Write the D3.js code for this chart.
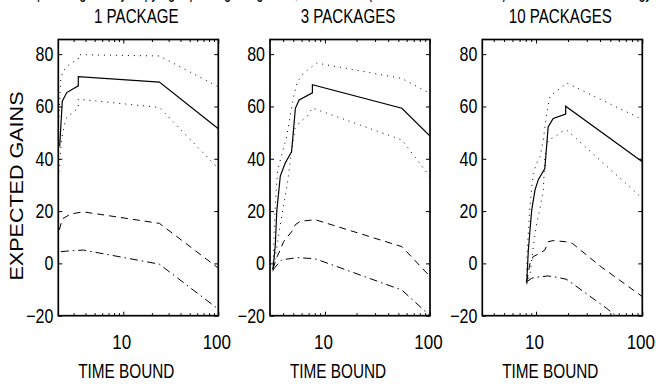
<!DOCTYPE html>
<html>
<head>
<meta charset="utf-8">
<script src="https://cdn.jsdelivr.net/npm/d3@7"></script>
<style>
  body { margin: 0; background: #fff; }
  svg { display: block; }
  text { font-family: "Liberation Sans", Arial, sans-serif; fill: #000; }
</style>
</head>
<body>
<div id="chart"></div>
<script>
const titles = ["1 PACKAGE", "3 PACKAGES", "10 PACKAGES"];
const yTicks = [-20, 0, 20, 40, 60, 80];
const xTicks = [10, 100];
const xMin = [2.07, 3.0, 3.12];

// 1 package
const p1MeanT = [2.14, 2.28, 2.54, 3.36, 3.36, 24, 100];
const p1Mean = [44.7, 62, 65.3, 67.9, 71.4, 69.3, 51.5];
const p1UpperT = [2.1, 2.15, 2.2, 2.34, 2.54, 2.79, 3.2, 3.36, 3.36, 24, 100];
const p1Upper = [56, 64, 70.7, 73.6, 75.2, 76.5, 77.5, 78, 79.8, 79.3, 67.5];
const p1LowerT = [2.1, 2.24, 2.34, 2.49, 2.87, 3.36, 3.36, 24, 100];
const p1Lower = [35, 47.2, 51, 55.4, 57.3, 59.6, 62.8, 59.6, 36.3];
const p1DashT = [2.12, 2.28, 2.8, 3.8, 24, 100];
const p1Dash = [12.8, 17, 18.9, 19.7, 15.3, -1.8];
const p1DashDotT = [2.2, 2.8, 3.8, 24, 100];
const p1DashDot = [4.5, 4.8, 5.1, -0.3, -17.5];

// 3 packages
const p2MeanT = [3.2, 3.37, 3.48, 3.76, 4.19, 4.81, 5.04, 5.23, 5.68, 7.6, 7.6, 54, 100];
const p2Mean = [-2.5, 7, 20, 33.4, 38.4, 42.7, 51.7, 59.3, 62.5, 65.2, 68.3, 59.3, 48.7];
const p2UpperT = [3.2, 3.3, 3.42, 3.55, 3.87, 4.32, 4.65, 5.04, 5.45, 6.22, 7.13, 8.33, 54, 100];
const p2Upper = [-2, 14, 27, 35.7, 41.4, 48.4, 56, 63.7, 69.4, 72.6, 74.5, 76.6, 70.7, 65];
const p2LowerT = [3.2, 3.48, 3.76, 4.05, 4.37, 4.75, 5.0, 5.19, 5.8, 6.8, 7.6, 54, 100];
const p2Lower = [-3, 5.9, 14.8, 22.4, 30, 40.8, 47.2, 51.6, 54.1, 56.3, 59.4, 47.2, 33.1];
const p2DashT = [3.2, 3.5, 3.76, 4.05, 4.86, 5.23, 5.84, 8.1, 54, 100];
const p2Dash = [-2, 2.5, 5.2, 8.4, 12.3, 14.8, 16.1, 16.7, 6.4, -5];
const p2DashDotT = [3.2, 3.5, 3.9, 5.5, 7.2, 8.3, 54, 100];
const p2DashDot = [-2.5, -0.6, 1.4, 2.2, 1.9, 1.6, -10.2, -20];

// 10 packages
const p3MeanT = [8.17, 8.46, 9.1, 9.77, 10.5, 12.1, 13.0, 14.5, 19, 19, 100];
const p3Mean = [-7.6, 5, 20.4, 28, 32, 36.3, 52.2, 55.4, 57.1, 60.1, 38.9];
const p3UpperT = [8.1, 8.3, 8.7, 9.1, 9.42, 10.1, 10.9, 11.7, 12.6, 13.5, 15.1, 17.4, 19.4, 100];
const p3Upper = [-7, 6, 20, 29, 34.4, 38.2, 40.8, 47.2, 57.4, 63.7, 65.6, 67.3, 69, 55];
const p3LowerT = [8.2, 8.8, 9.4, 10.1, 10.9, 11.7, 12.1, 13.0, 15.1, 17.4, 19.4, 100];
const p3Lower = [-8, -4, 6, 15, 21, 28, 40.8, 47.2, 48.4, 50.3, 51, 24.9];
const p3DashT = [8.17, 8.77, 9.4, 11, 12.1, 13.0, 14.5, 18.9, 21.9, 40, 100];
const p3Dash = [-7, 0, 2.6, 4, 5.1, 8.3, 8.7, 8.3, 7.7, -1, -12.7];
const p3DashDotT = [8.17, 9.1, 10.1, 13.0, 15.6, 19.4, 46.2, 100];
const p3DashDot = [-7, -5.7, -5.3, -4.8, -5.3, -6.1, -17.2, -28];

const panels = [
  [[p1MeanT, p1Mean, "mean"], [p1UpperT, p1Upper, "dot"], [p1LowerT, p1Lower, "dot"], [p1DashT, p1Dash, "dash"], [p1DashDotT, p1DashDot, "dashdot"]],
  [[p2MeanT, p2Mean, "mean"], [p2UpperT, p2Upper, "dot"], [p2LowerT, p2Lower, "dot"], [p2DashT, p2Dash, "dash"], [p2DashDotT, p2DashDot, "dashdot"]],
  [[p3MeanT, p3Mean, "mean"], [p3UpperT, p3Upper, "dot"], [p3LowerT, p3Lower, "dot"], [p3DashT, p3Dash, "dash"], [p3DashDotT, p3DashDot, "dashdot"]]
];

const width = 656, height = 386;
const plotTop = 39.5, plotBottom = 315.7, plotW = 160;
const lefts = [58.3, 270, 482.3];

const styles = {
  mean: { w: 1.2, dash: null },
  dot: { w: 1, dash: "1,5" },
  dash: { w: 1, dash: "7,5" },
  dashdot: { w: 1, dash: "8,4,1.5,4" }
};

// squeeze text horizontally so it matches the condensed helvetica look
function squeeze(sel, k) {
  sel.each(function () {
    const len = this.getComputedTextLength();
    d3.select(this).attr("textLength", len * k).attr("lengthAdjust", "spacingAndGlyphs");
  });
}

const svg = d3.select("#chart").append("svg")
  .attr("width", width)
  .attr("height", height);

// cut-off caption line from the page above, only its descenders show
svg.append("text")
  .attr("x", 2).attr("y", -2)
  .style("font-size", "20px")
  .attr("textLength", 650)
  .attr("lengthAdjust", "spacingAndGlyphs")
  .text("the expected gains by copying a package of games, with dotted (one standard deviation) bounds for each strategy");

const y = d3.scaleLinear().domain([-20, 85.6]).range([plotBottom, plotTop]);

panels.forEach((series, i) => {
  const x = d3.scaleLog().domain([xMin[i], 100]).range([0, plotW]);
  const g = svg.append("g").attr("transform", `translate(${lefts[i]},0)`);

  g.append("clipPath").attr("id", "clip" + i)
    .append("rect").attr("x", 0).attr("y", plotTop).attr("width", plotW).attr("height", plotBottom - plotTop);

  const line = d3.line()
    .x(d => x(d[0]))
    .y(d => y(d[1]));

  const lines = g.append("g").attr("clip-path", `url(#clip${i})`);
  series.forEach(s => {
    const pts = s[0].map((t, j) => [t, s[1][j]]);
    const st = styles[s[2]];
    lines.append("path")
      .datum(pts)
      .attr("fill", "none")
      .attr("stroke", "#000")
      .attr("stroke-width", st.w)
      .attr("stroke-dasharray", st.dash)
      .attr("d", line);
  });

  const minor = x.ticks().filter(t => !xTicks.includes(t));

  // left / right y ticks
  g.append("g")
    .call(d3.axisLeft(y).tickValues(yTicks).tickSizeInner(-4).tickSizeOuter(0).tickPadding(5))
    .call(a => a.select(".domain").remove())
    .call(a => a.selectAll("text").style("font-size", "20px").call(squeeze, 0.8));
  g.append("g")
    .attr("transform", `translate(${plotW},0)`)
    .call(d3.axisRight(y).tickValues(yTicks).tickSizeInner(-4).tickSizeOuter(0).tickFormat(""))
    .call(a => a.select(".domain").remove());

  // bottom / top x ticks, minor then major
  [[d3.axisBottom, plotBottom], [d3.axisTop, plotTop]].forEach(([ax, yy]) => {
    g.append("g")
      .attr("transform", `translate(0,${yy})`)
      .call(ax(x).tickValues(minor).tickSizeInner(-2.5).tickSizeOuter(0).tickFormat(""))
      .call(a => a.select(".domain").remove());
  });
  g.append("g")
    .attr("transform", `translate(0,${plotTop})`)
    .call(d3.axisTop(x).tickValues(xTicks).tickSizeInner(-4).tickSizeOuter(0).tickFormat(""))
    .call(a => a.select(".domain").remove());
  g.append("g")
    .attr("transform", `translate(0,${plotBottom})`)
    .call(d3.axisBottom(x).tickValues(xTicks).tickSizeInner(-4).tickSizeOuter(0).tickFormat(d3.format("d")))
    .call(a => a.select(".domain").remove())
    .call(a => a.selectAll("text").attr("y", 33.5).attr("dy", 0).attr("dx", -2).style("font-size", "20px").call(squeeze, 0.85));

  g.selectAll(".tick line").attr("stroke", "#000");

  // box
  g.append("rect")
    .attr("x", 0).attr("y", plotTop)
    .attr("width", plotW).attr("height", plotBottom - plotTop)
    .attr("fill", "none")
    .attr("stroke", "#000")
    .attr("stroke-width", 1.7);

  g.append("text")
    .attr("x", plotW / 2 - 2).attr("y", 22.7)
    .attr("text-anchor", "middle")
    .style("font-size", "21px")
    .text(titles[i])
    .call(squeeze, 0.72);

  g.append("text")
    .attr("x", plotW / 2 - 12).attr("y", 378.3)
    .attr("text-anchor", "middle")
    .style("font-size", "21px")
    .text("TIME BOUND")
    .call(squeeze, 0.73);
});

svg.append("text")
  .attr("transform", "translate(23.3,186) rotate(-90)")
  .attr("text-anchor", "middle")
  .style("font-size", "19px")
  .attr("textLength", 189)
  .attr("lengthAdjust", "spacingAndGlyphs")
  .text("EXPECTED GAINS");
</script>
</body>
</html>
